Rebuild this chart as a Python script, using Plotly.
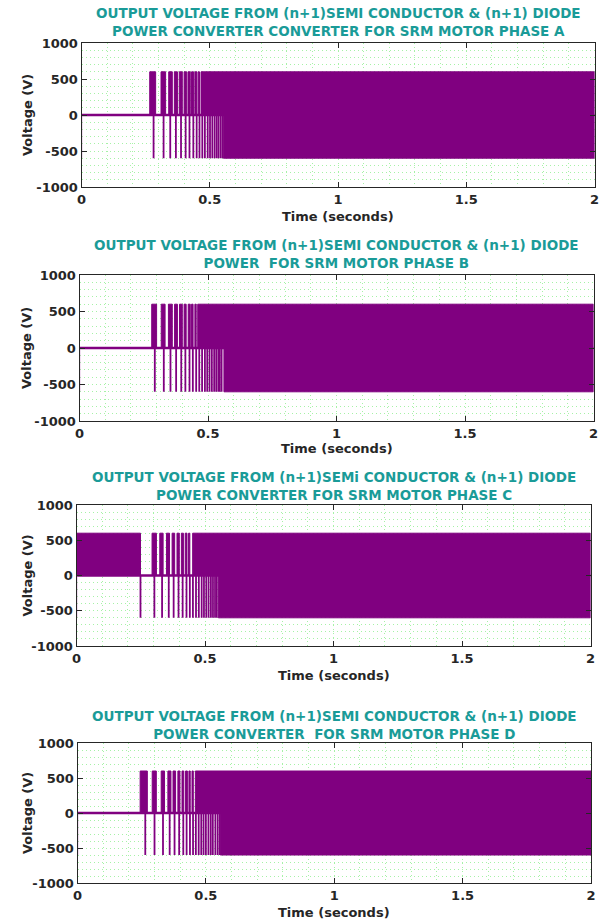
import plotly.graph_objects as go

# ---------------- data ----------------
T_END = 2.0
V_POS = 600
V_NEG = -600

X_TICKS = [0, 0.5, 1, 1.5, 2]
X_TICK_LABELS = ["0", "0.5", "1", "1.5", "2"]
Y_TICKS = [-1000, -500, 0, 500, 1000]
Y_TICK_LABELS = ["-1000", "-500", "0", "500", "1000"]

TITLES = [
    "OUTPUT VOLTAGE FROM (n+1)SEMI CONDUCTOR & (n+1) DIODE<br>POWER CONVERTER CONVERTER FOR SRM MOTOR PHASE A",
    "OUTPUT VOLTAGE FROM (n+1)SEMI CONDUCTOR & (n+1) DIODE<br>POWER  FOR SRM MOTOR PHASE B",
    "OUTPUT VOLTAGE FROM (n+1)SEMi CONDUCTOR & (n+1) DIODE<br>POWER CONVERTER FOR SRM MOTOR PHASE C",
    "OUTPUT VOLTAGE FROM (n+1)SEMI CONDUCTOR & (n+1) DIODE<br>POWER CONVERTER  FOR SRM MOTOR PHASE D",
]
X_LABEL = "Time (seconds)"
Y_LABEL = "Voltage (V)"

# Phase A
A_bar_start = [0.266, 0.310, 0.340, 0.362, 0.381, 0.400, 0.415, 0.429, 0.442, 0.455]
A_bar_end = [0.289, 0.328, 0.354, 0.374, 0.393, 0.409, 0.424, 0.437, 0.450, 0.460]
A_neg_spikes = [0.281, 0.320, 0.346, 0.368, 0.388, 0.406, 0.421, 0.436, 0.449, 0.460,
                0.471, 0.481, 0.492, 0.501, 0.510, 0.519, 0.527, 0.534, 0.542, 0.549]
A_dense_pos = 0.466
A_dense_neg = 0.553

# Phase B
B_bar_start = [0.281, 0.318, 0.346, 0.370, 0.389, 0.407, 0.423, 0.436, 0.449]
B_bar_end = [0.300, 0.333, 0.361, 0.381, 0.400, 0.415, 0.431, 0.442, 0.454]
B_neg_spikes = [0.293, 0.328, 0.354, 0.376, 0.396, 0.412, 0.428, 0.441, 0.454, 0.466,
                0.477, 0.488, 0.497, 0.506, 0.515, 0.524, 0.532, 0.540, 0.546, 0.553]
B_dense_pos = 0.460
B_dense_neg = 0.562

# Phase C
C_bar_start = [0.0, 0.294, 0.324, 0.350, 0.372, 0.391, 0.408, 0.423, 0.436]
C_bar_end = [0.249, 0.311, 0.337, 0.362, 0.382, 0.400, 0.416, 0.430, 0.441]
C_neg_spikes = [0.249, 0.303, 0.333, 0.359, 0.378, 0.397, 0.413, 0.428, 0.441, 0.453,
                0.465, 0.476, 0.487, 0.496, 0.505, 0.514, 0.523, 0.531, 0.539, 0.546]
C_dense_pos = 0.452
C_dense_neg = 0.552

# Phase D
D_bar_start = [0.244, 0.291, 0.326, 0.352, 0.372, 0.391, 0.407, 0.421, 0.434, 0.446]
D_bar_end = [0.272, 0.307, 0.339, 0.364, 0.382, 0.399, 0.414, 0.428, 0.439, 0.451]
D_neg_spikes = [0.264, 0.300, 0.333, 0.359, 0.378, 0.396, 0.412, 0.425, 0.438, 0.450,
                0.461, 0.472, 0.482, 0.491, 0.500, 0.510, 0.519, 0.527, 0.537, 0.546, 0.554]
D_dense_pos = 0.459
D_dense_neg = 0.556

PHASES = [
    (A_bar_start, A_bar_end, A_neg_spikes, A_dense_pos, A_dense_neg),
    (B_bar_start, B_bar_end, B_neg_spikes, B_dense_pos, B_dense_neg),
    (C_bar_start, C_bar_end, C_neg_spikes, C_dense_pos, C_dense_neg),
    (D_bar_start, D_bar_end, D_neg_spikes, D_dense_pos, D_dense_neg),
]

# ---------------- styling / layout ----------------
W, H = 611, 922
PURPLE = "#800080"
LIGHT_PURPLE = "#c77ec7"
TEAL = "#1a9b98"
GRID = "#a6f2a6"
GRID_DASH = "1px,3px"
AXIS_COL = "#262626"
FONT = "DejaVu Sans"

# plot boxes in screen pixels: (left, right, top, bottom)
BOXES = [
    (81.5, 594.5, 43, 187),
    (79.5, 593.5, 275, 421),
    (76.5, 590.5, 505, 646),
    (77.5, 591.0, 743, 883),
]
TITLE_Y = [22, 254, 485.5, 724.5]
XLABEL_Y = [216, 448, 675, 912]
YLABEL_X = 27


def px(x):
    return x / W


def py(y):
    return 1 - y / H


fig = go.Figure()
annotations = []

for i, (bs, be, neg, dpos, dneg) in enumerate(PHASES):
    k = "" if i == 0 else str(i + 1)
    xa, ya = "x" + k, "y" + k

    # baseline at 0
    fig.add_trace(go.Scatter(x=[0, T_END], y=[0, 0], mode="lines",
                             line=dict(color=PURPLE, width=2.5),
                             xaxis=xa, yaxis=ya, hoverinfo="skip"))
    # initial transient at t=0
    fig.add_trace(go.Scatter(x=[0, 0], y=[0, V_NEG], mode="lines",
                             line=dict(color=LIGHT_PURPLE, width=1.5),
                             xaxis=xa, yaxis=ya, hoverinfo="skip"))
    # positive conduction blocks (including the dense switching region)
    starts = list(bs) + [dpos]
    ends = list(be) + [T_END]
    xs, ys = [], []
    for s, e in zip(starts, ends):
        xs += [s, s, e, e, s, None]
        ys += [0, V_POS, V_POS, 0, 0, None]
    fig.add_trace(go.Scatter(x=xs, y=ys, mode="lines", fill="toself",
                             fillcolor=PURPLE, line=dict(color=PURPLE, width=1),
                             xaxis=xa, yaxis=ya, hoverinfo="skip"))
    # negative demagnetisation spikes
    xs, ys = [], []
    for t in neg:
        xs += [t, t, None]
        ys += [0, V_NEG, None]
    fig.add_trace(go.Scatter(x=xs, y=ys, mode="lines",
                             line=dict(color=PURPLE, width=1.8),
                             xaxis=xa, yaxis=ya, hoverinfo="skip"))
    # dense negative region
    fig.add_trace(go.Scatter(x=[dneg, dneg, T_END, T_END, dneg],
                             y=[0, V_NEG, V_NEG, 0, 0], mode="lines", fill="toself",
                             fillcolor=PURPLE, line=dict(color=PURPLE, width=1),
                             xaxis=xa, yaxis=ya, hoverinfo="skip"))

    l, r, t, b = BOXES[i]
    common = dict(showline=True, linecolor=AXIS_COL, linewidth=1, mirror="ticks",
                  ticks="inside", ticklen=5, tickcolor=AXIS_COL, tickwidth=1,
                  showgrid=True, gridcolor=GRID, griddash=GRID_DASH, gridwidth=1,
                  zeroline=False, automargin=False,
                  tickfont=dict(family=FONT, size=13, color=AXIS_COL, weight="bold"))
    fig.update_layout(**{
        "xaxis" + k: dict(domain=[px(l), px(r)], range=[0, T_END], anchor=ya,
                          tickmode="array", tickvals=X_TICKS, ticktext=X_TICK_LABELS,
                          minor=dict(dtick=0.1, showgrid=True, gridcolor=GRID,
                                     griddash=GRID_DASH, gridwidth=1),
                          **common),
        "yaxis" + k: dict(domain=[py(b), py(t)], range=[-1000, 1000], anchor=xa,
                          tickmode="array", tickvals=Y_TICKS, ticktext=Y_TICK_LABELS,
                          minor=dict(dtick=100, showgrid=True, gridcolor=GRID,
                                     griddash=GRID_DASH, gridwidth=1),
                          **common),
    })

    cx = (l + r) / 2
    annotations.append(dict(text=TITLES[i], x=px(cx), y=py(TITLE_Y[i]),
                            xref="paper", yref="paper", xanchor="center", yanchor="middle",
                            showarrow=False, align="center",
                            font=dict(family=FONT, size=13.5, color=TEAL, weight="bold")))
    annotations.append(dict(text=X_LABEL, x=px(cx), y=py(XLABEL_Y[i]),
                            xref="paper", yref="paper", xanchor="center", yanchor="middle",
                            showarrow=False,
                            font=dict(family=FONT, size=13, color=AXIS_COL, weight="bold")))
    annotations.append(dict(text=Y_LABEL, x=px(YLABEL_X), y=py((t + b) / 2),
                            xref="paper", yref="paper", xanchor="center", yanchor="middle",
                            showarrow=False, textangle=-90,
                            font=dict(family=FONT, size=13, color=AXIS_COL, weight="bold")))

fig.update_layout(width=W, height=H, margin=dict(l=0, r=0, t=0, b=0),
                  paper_bgcolor="white", plot_bgcolor="white", showlegend=False,
                  hovermode=False, annotations=annotations)

# remove the default page margin so the figure fills the window exactly
fig.write_html("out.html",
               config={"displayModeBar": False, "staticPlot": True},
               post_script="document.body.style.margin='0';document.body.style.overflow='hidden';")
